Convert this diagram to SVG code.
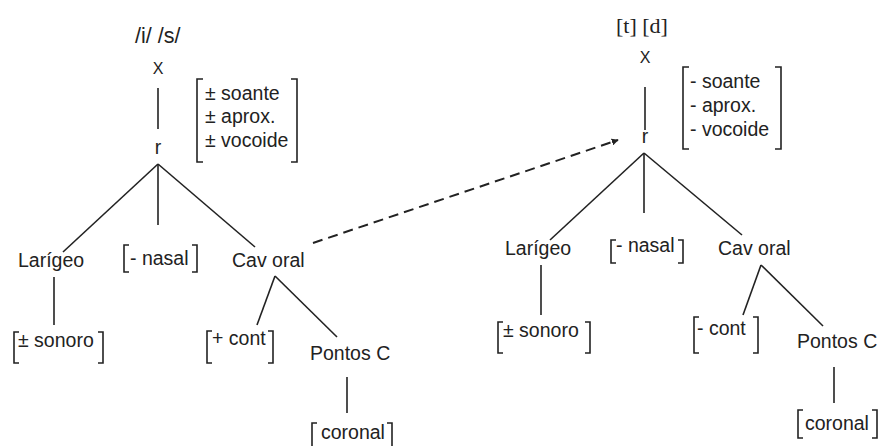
<svg xmlns="http://www.w3.org/2000/svg" width="881" height="446" viewBox="0 0 881 446">
<defs>
<style>
text{font-family:"Liberation Sans",Arial,sans-serif;font-size:19.5px;fill:#222}
.serif{font-family:"Liberation Serif","Times New Roman",serif;font-size:22px}
.big{font-size:21.5px}
.x{font-size:16px}
.ln{stroke:#222;stroke-width:1.6;fill:none}
.br{stroke:#222;stroke-width:1.6;fill:none}
.dash{stroke:#222;stroke-width:2;fill:none;stroke-dasharray:10 6}
</style>
<marker id="ah" viewBox="0 0 10 10" refX="9" refY="5" markerWidth="7" markerHeight="7" markerUnits="userSpaceOnUse" orient="auto">
<path d="M0,0 L10,5 L0,10 z" fill="#222"/>
</marker>
</defs>
<rect width="881" height="446" fill="#fff"/>

<g id="connectors">
<line class="ln" x1="158" y1="88" x2="158" y2="129"/>
<line class="ln" x1="158" y1="164" x2="63" y2="252"/>
<line class="ln" x1="158" y1="164" x2="158" y2="225"/>
<line class="ln" x1="158" y1="164" x2="255" y2="247"/>
<line class="ln" x1="54" y1="277" x2="54" y2="325"/>
<line class="ln" x1="275" y1="276" x2="257" y2="325"/>
<line class="ln" x1="275" y1="276" x2="337" y2="337"/>
<line class="ln" x1="347" y1="377" x2="347" y2="413"/>
<line class="ln" x1="645" y1="87" x2="645" y2="130"/>
<line class="ln" x1="644" y1="153" x2="550" y2="240"/>
<line class="ln" x1="644" y1="153" x2="644" y2="213"/>
<line class="ln" x1="644" y1="153" x2="742" y2="235"/>
<line class="ln" x1="541" y1="265" x2="541" y2="315"/>
<line class="ln" x1="761" y1="265" x2="743" y2="315"/>
<line class="ln" x1="761" y1="265" x2="823" y2="326"/>
<line class="ln" x1="834" y1="367" x2="834" y2="403"/>
<line class="dash" x1="313" y1="243" x2="618" y2="140" marker-end="url(#ah)"/>
</g>

<g id="left-segments"><text class="big" x="135" y="43">/i/ /s/</text></g>
<g id="left-X"><text class="x" x="158" y="74" text-anchor="middle">X</text></g>
<g id="left-r"><text x="158" y="154" text-anchor="middle">r</text></g>
<g id="left-features">
<path class="br" d="M203,79 H197 V162 H203"/>
<path class="br" d="M291,79 H297 V162 H291"/>
<text x="205" y="100">± soante</text>
<text x="205" y="123">± aprox.</text>
<text x="205" y="147">± vocoide</text>
</g>
<g id="left-larigeo"><text x="18" y="267">Larígeo</text></g>
<g id="left-nasal">
<path class="br" d="M129,245 H124 V272 H129"/>
<path class="br" d="M192,245 H197 V272 H192"/>
<text x="130" y="265">- nasal</text>
</g>
<g id="left-cavoral"><text x="232" y="267">Cav oral</text></g>
<g id="left-sonoro">
<path class="br" d="M19,332 H14 V363 H19"/>
<path class="br" d="M98,332 H103 V363 H98"/>
<text x="18" y="347">± sonoro</text>
</g>
<g id="left-cont">
<path class="br" d="M212,331 H207 V363 H212"/>
<path class="br" d="M268,331 H273 V363 H268"/>
<text x="212" y="345">+ cont</text>
</g>
<g id="left-pontos"><text x="310" y="360">Pontos C</text></g>
<g id="left-coronal">
<path class="br" d="M317,423 H312 V450"/>
<path class="br" d="M387,423 H392 V450"/>
<text x="321" y="439">coronal</text>
</g>

<g id="right-segments"><text class="serif" x="616" y="33">[t] [d]</text></g>
<g id="right-X"><text class="x" x="645" y="63" text-anchor="middle">X</text></g>
<g id="right-r"><text x="645" y="143" text-anchor="middle">r</text></g>
<g id="right-features">
<path class="br" d="M689,67 H683 V149 H689"/>
<path class="br" d="M775,67 H781 V149 H775"/>
<text x="690" y="88">- soante</text>
<text x="690" y="112">- aprox.</text>
<text x="690" y="136">- vocoide</text>
</g>
<g id="right-larigeo"><text x="505" y="255">Larígeo</text></g>
<g id="right-nasal">
<path class="br" d="M616,240 H611 V263 H616"/>
<path class="br" d="M678,240 H683 V263 H678"/>
<text x="616" y="252">- nasal</text>
</g>
<g id="right-cavoral"><text x="718" y="255">Cav oral</text></g>
<g id="right-sonoro">
<path class="br" d="M503,322 H498 V353 H503"/>
<path class="br" d="M585,322 H590 V353 H585"/>
<text x="503" y="337">± sonoro</text>
</g>
<g id="right-cont">
<path class="br" d="M699,317 H694 V353 H699"/>
<path class="br" d="M753,317 H758 V353 H753"/>
<text x="697" y="335">- cont</text>
</g>
<g id="right-pontos"><text x="797" y="348">Pontos C</text></g>
<g id="right-coronal">
<path class="br" d="M803,410 H798 V438 H803"/>
<path class="br" d="M872,410 H877 V438 H872"/>
<text x="805" y="430">coronal</text>
</g>
</svg>
